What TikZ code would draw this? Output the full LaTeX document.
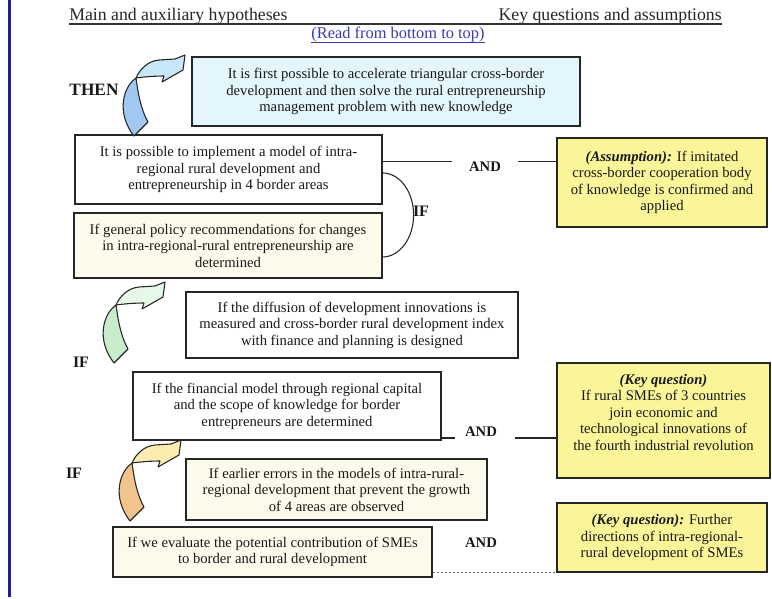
\documentclass[tikz,border=0pt]{standalone}
\usepackage{fontspec}
\setmainfont{Liberation Serif}
\usetikzlibrary{shadows}

\definecolor{edgeblue}{HTML}{1C1C9C}
\definecolor{readblue}{HTML}{3A3AB8}
\definecolor{cyanfill}{HTML}{E3F6FB}
\definecolor{creamfill}{HTML}{FCFBEB}
\definecolor{notefill}{HTML}{FAF598}
\definecolor{blueL}{HTML}{C8E8FA}
\definecolor{blueD}{HTML}{A0C8F0}
\definecolor{greenL}{HTML}{E6F8E8}
\definecolor{greenD}{HTML}{C8ECCC}
\definecolor{orangeL}{HTML}{FCECB0}
\definecolor{orangeD}{HTML}{F0C48C}

\newcommand\boxfont{\fontsize{11}{12.4}\selectfont}

\tikzset{
  hbox/.style={draw=black!85, line width=0.9pt, align=center, inner sep=2pt,
    font=\boxfont, text=black!90,
    drop shadow={shadow xshift=1.1pt, shadow yshift=-1.1pt, fill=black, opacity=0.55}},
  notebox/.style={hbox, fill=notefill, line width=1pt},
  keyword/.style={font=\bfseries\fontsize{11}{13}\selectfont, text=black!90, inner sep=0pt},
  link/.style={draw=black!85, line width=0.8pt},
  arrowline/.style={draw=black!85, line width=0.8pt, line join=round},
  % twisted curved arrow: dark back part (tail) and light front part (head)
  pics/curvarrow/.style 2 args={code={
    \filldraw[fill=#2, arrowline] (15,23) .. controls (2,32) and (-5,58) .. (13,81)
      -- (27,67) .. controls (20,55) and (17,38) .. cycle;
    \filldraw[fill=#1, arrowline] (15,23) .. controls (19,14) and (27,6) .. (38,5)
      -- (54,4) -- (64,0) -- (62,15) -- (41,27) -- (43,21)
      .. controls (33,21) and (22,22) .. cycle;
  }}
}

\begin{document}
\begin{tikzpicture}[x=0.75pt,y=-0.75pt]
\useasboundingbox (0,0) rectangle (772,599);
\fill[white] (0,0) rectangle (772,599);

% left margin rule
\draw[edgeblue, line width=2.25pt] (9.5,0) -- (9.5,597);

% column headings, underlined by one rule across the page
\node[anchor=base west, inner sep=0pt, font=\fontsize{13.3}{15}\selectfont, text=black!85]
  (hleft) at (69,20.5) {Main and auxiliary hypotheses};
\node[anchor=base east, inner sep=0pt, font=\fontsize{13.3}{15}\selectfont, text=black!85]
  (hright) at (722,20.5) {Key questions and assumptions};
\coordinate (ulstart) at ([yshift=-2.7pt]hleft.base west);
\coordinate (ulend) at ([yshift=-2.7pt]hright.base east);
\draw[black!80, line width=1.4pt] (ulstart) -- (ulend);

\node[anchor=base, inner sep=0pt, font=\fontsize{12.3}{14}\selectfont, text=readblue]
  (read) at (398,39) {(Read from bottom to top)};
\coordinate (rdstart) at ([yshift=-2.7pt]read.base west);
\coordinate (rdend) at ([yshift=-2.7pt]read.base east);
\draw[readblue, line width=1pt] (rdstart) -- (rdend);

% hypothesis boxes
\node[hbox, fill=cyanfill, minimum width=291pt, minimum height=51.75pt] (top) at (386,91.5)
  {It is first possible to accelerate triangular cross-border\\
   development and then solve the rural entrepreneurship\\
   management problem with new knowledge};
\node[hbox, fill=white, minimum width=230.25pt, minimum height=51.75pt] (b2) at (228.5,169.5)
  {It is possible to implement a model of intra-\\
   regional rural development and\\
   entrepreneurship in 4 border areas};
\node[hbox, fill=creamfill, minimum width=231pt, minimum height=48.75pt] (b3) at (228,245.5)
  {If general policy recommendations for changes\\
   in intra-regional-rural entrepreneurship are\\
   determined};
\node[hbox, fill=white, minimum width=249pt, minimum height=49.5pt] (b4) at (352,325)
  {If the diffusion of development innovations is\\
   measured and cross-border rural development index\\
   with finance and planning is designed};
\node[hbox, fill=white, minimum width=231pt, minimum height=51pt] (b5) at (287,406)
  {If the financial model through regional capital\\
   and the scope of knowledge for border\\
   entrepreneurs are determined};
\node[hbox, fill=creamfill, minimum width=225.75pt, minimum height=45.75pt] (b6) at (336.5,489.5)
  {If earlier errors in the models of intra-rural-\\
   regional development that prevent the growth\\
   of 4 areas are observed};
\node[hbox, fill=creamfill, minimum width=239.25pt, minimum height=37.5pt] (b7) at (272.5,552)
  {If we evaluate the potential contribution of SMEs\\
   to border and rural development};

% key questions and assumptions
\node[notebox, minimum width=157.5pt, minimum height=66.75pt] (y1) at (662,182.5)
  {\textbf{\textit{(Assumption):}} If imitated\\
   cross-border cooperation body\\
   of knowledge is confirmed and\\
   applied};
\node[notebox, minimum width=159.75pt, minimum height=86.25pt] (y2) at (663.5,420.5)
  {\textbf{\textit{(Key question)}}\\
   If rural SMEs of 3 countries\\
   join economic and\\
   technological innovations of\\
   the fourth industrial revolution\\ \mbox{}};
\node[notebox, minimum width=157.5pt, minimum height=51.75pt] (y3) at (662,537.5)
  {\textbf{\textit{(Key question):}} Further\\
   directions of intra-regional-\\
   rural development of SMEs};

% logical links
\node[keyword, inner xsep=13pt] (and1) at (485,167) {AND};
\coordinate (and1l) at ([yshift=4pt]and1.west);
\coordinate (and1r) at ([yshift=4pt]and1.east);
\draw[link] (b2.east |- and1l) -- (and1l);
\draw[link] (and1r) -- (y1.west |- and1r);

\node[keyword, inner xsep=7.3pt] (and2) at (481,432) {AND};
\coordinate (and2l) at ([yshift=-4.5pt]and2.west);
\coordinate (and2r) at ([yshift=-4.5pt]and2.east);
\draw[link] (b5.east |- and2l) -- (and2l);
\draw[link, shorten <=6pt] (and2r) -- (y2.west |- and2r);

\node[keyword] (and3) at (481,543) {AND};
\draw[black!60, line width=1.1pt, dash pattern=on 2pt off 1pt]
  (b7.east |- y3.south west) -- (y3.south west);

% IF bracket joining the two upper hypotheses
\draw[link] ([yshift=-2.6pt]b2.east) arc[start angle=-90, end angle=90, x radius=31, y radius=42];
\node[keyword, font=\bfseries\fontsize{12}{14}\selectfont] (ifmid) at (421,211) {IF};

% step labels
\node[keyword, font=\bfseries\fontsize{13}{15}\selectfont] (then) at (94,90) {THEN};
\node[keyword, font=\bfseries\fontsize{12}{14}\selectfont] (ifup) at (81,362) {IF};
\node[keyword, font=\bfseries\fontsize{12}{14}\selectfont] (iflow) at (74,473) {IF};

% curved step arrows
\pic at (121,55) {curvarrow={blueL}{blueD}};
\pic at (101,282) {curvarrow={greenL}{greenD}};
\pic at (117,440) {curvarrow={orangeL}{orangeD}};

\end{tikzpicture}
\end{document}
